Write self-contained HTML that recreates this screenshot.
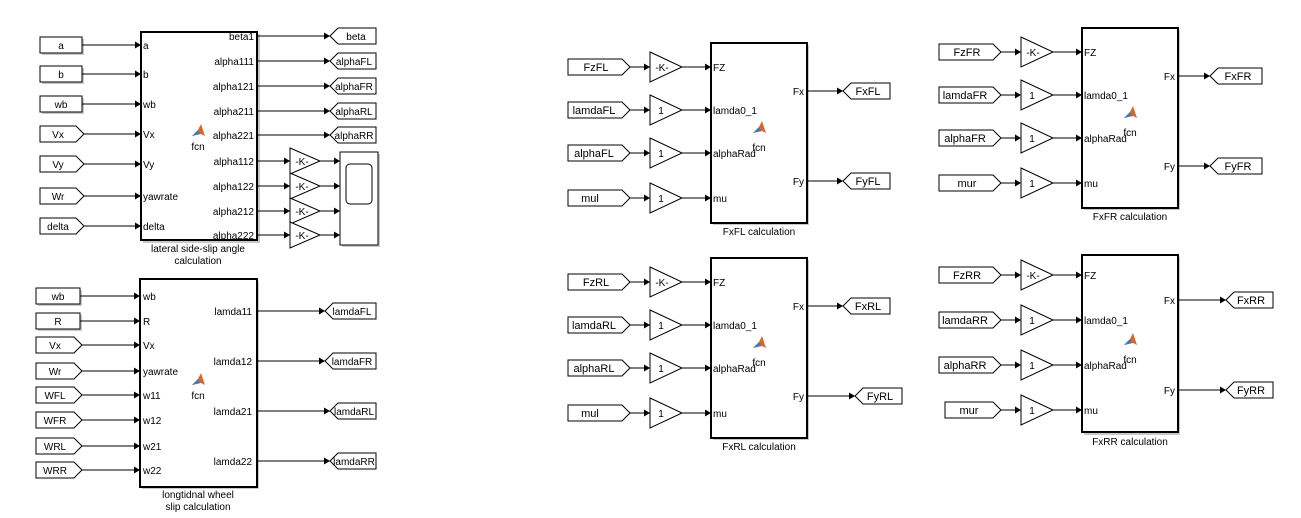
<!DOCTYPE html>
<html><head><meta charset="utf-8"><style>
html,body{margin:0;padding:0;background:#fff;}
svg{display:block;font-family:"Liberation Sans",Arial,sans-serif;}
.b{fill:#fff;stroke:#000;stroke-width:1;}
.fb{fill:#fff;stroke:#000;stroke-width:2;}
.sh{fill:#c8c8c8;stroke:none;}
.l{stroke:#000;stroke-width:1;fill:none;marker-end:url(#ar);}
text{font-size:10px;fill:#000;}
.t{font-size:11px;}
</style></head><body>
<svg width="1301" height="518" viewBox="0 0 1301 518" xmlns="http://www.w3.org/2000/svg">
<defs>
<marker id="ar" markerWidth="7" markerHeight="7" refX="6" refY="3.5" orient="auto" markerUnits="userSpaceOnUse"><path d="M0,0 L6,3.5 L0,7 Z" fill="#000"/></marker>
<g id="fcn"><path d="M0,8 L6,2 L9,-4 L13,8 L9,6 Z" fill="#d9662a"/><path d="M0,8 L6,2 L8,6 Z" fill="#3a7bbf"/></g>
</defs>

<!-- ===== lateral block ===== -->
<rect class="sh" x="143" y="34" width="117" height="209"/>
<rect class="fb" x="141" y="32" width="116" height="208"/>
<g text-anchor="start">
<text x="143" y="49">a</text><text x="143" y="78">b</text><text x="143" y="108">wb</text><text x="143" y="138">Vx</text><text x="143" y="168">Vy</text><text x="143" y="200">yawrate</text><text x="143" y="230">delta</text>
</g>
<g text-anchor="end">
<text x="254" y="40">beta1</text><text x="254" y="65">alpha111</text><text x="254" y="90">alpha121</text><text x="254" y="115">alpha211</text><text x="254" y="139">alpha221</text><text x="254" y="165">alpha112</text><text x="254" y="190">alpha122</text><text x="254" y="215">alpha212</text><text x="254" y="239">alpha222</text>
</g>
<use href="#fcn" x="192" y="128"/><text x="198" y="150" text-anchor="middle">fcn</text>
<text x="198" y="252" text-anchor="middle">lateral  side-slip angle</text>
<text x="198" y="264" text-anchor="middle">calculation</text>
<!-- inputs -->
<g class="t" text-anchor="middle">
<rect class="sh" x="42" y="39" width="42" height="16"/><rect class="b" x="40" y="37" width="42" height="16"/><text x="61" y="49">a</text>
<rect class="sh" x="42" y="68" width="42" height="16"/><rect class="b" x="40" y="66" width="42" height="16"/><text x="61" y="78">b</text>
<rect class="sh" x="42" y="98" width="42" height="16"/><rect class="b" x="40" y="96" width="42" height="16"/><text x="61" y="108">wb</text>
<polygon class="b" points="40,126 76,126 84,134 76,142 40,142"/><text x="58" y="138">Vx</text>
<polygon class="b" points="40,156 76,156 84,164 76,172 40,172"/><text x="58" y="168">Vy</text>
<polygon class="b" points="40,188 76,188 84,196 76,204 40,204"/><text x="58" y="200">Wr</text>
<polygon class="b" points="40,218 76,218 84,226 76,234 40,234"/><text x="58" y="230">delta</text>
</g>
<line class="l" x1="82" y1="45" x2="141" y2="45"/><line class="l" x1="82" y1="74" x2="141" y2="74"/><line class="l" x1="82" y1="104" x2="141" y2="104"/><line class="l" x1="84" y1="134" x2="141" y2="134"/><line class="l" x1="84" y1="164" x2="141" y2="164"/><line class="l" x1="84" y1="196" x2="141" y2="196"/><line class="l" x1="84" y1="226" x2="141" y2="226"/>
<!-- outputs -->
<g class="t" text-anchor="middle">
<polygon class="b" points="330,36 338,28 376,28 376,44 338,44"/><text x="356" y="40">beta</text>
<polygon class="b" points="330,61 338,53 376,53 376,69 338,69"/><text x="354" y="65">alphaFL</text>
<polygon class="b" points="330,86 338,78 376,78 376,94 338,94"/><text x="354" y="90">alphaFR</text>
<polygon class="b" points="330,111 338,103 376,103 376,119 338,119"/><text x="354" y="115">alphaRL</text>
<polygon class="b" points="330,135 338,127 376,127 376,143 338,143"/><text x="354" y="139">alphaRR</text>
</g>
<line class="l" x1="257" y1="36" x2="330" y2="36"/><line class="l" x1="257" y1="61" x2="330" y2="61"/><line class="l" x1="257" y1="86" x2="330" y2="86"/><line class="l" x1="257" y1="111" x2="330" y2="111"/><line class="l" x1="257" y1="135" x2="330" y2="135"/>
<!-- gains + scope -->
<line class="l" x1="257" y1="161" x2="290" y2="161"/><line class="l" x1="257" y1="186" x2="290" y2="186"/><line class="l" x1="257" y1="211" x2="290" y2="211"/><line class="l" x1="257" y1="235" x2="290" y2="235"/>
<polygon class="b" points="290,148 320,161 290,174"/><text x="302" y="165" text-anchor="middle">-K-</text>
<polygon class="b" points="290,173 320,186 290,199"/><text x="302" y="190" text-anchor="middle">-K-</text>
<polygon class="b" points="290,198 320,211 290,224"/><text x="302" y="215" text-anchor="middle">-K-</text>
<polygon class="b" points="290,222 320,235 290,248"/><text x="302" y="239" text-anchor="middle">-K-</text>
<line class="l" x1="320" y1="161" x2="340" y2="161"/><line class="l" x1="320" y1="186" x2="340" y2="186"/><line class="l" x1="320" y1="211" x2="340" y2="211"/><line class="l" x1="320" y1="235" x2="340" y2="235"/>
<rect class="sh" x="342" y="154" width="38" height="93"/><rect class="b" x="340" y="152" width="38" height="93"/>
<rect x="346" y="164" width="26" height="40" rx="4" fill="none" stroke="#000"/>

<!-- ===== longitudinal block ===== -->
<rect class="sh" x="142" y="281" width="117" height="208"/>
<rect class="fb" x="140" y="279" width="117" height="208"/>
<g text-anchor="start">
<text x="143" y="300">wb</text><text x="143" y="325">R</text><text x="143" y="349">Vx</text><text x="143" y="375">yawrate</text><text x="143" y="399">w11</text><text x="143" y="424">w12</text><text x="143" y="450">w21</text><text x="143" y="474">w22</text>
</g>
<g text-anchor="end"><text x="252" y="315">lamda11</text><text x="252" y="365">lamda12</text><text x="252" y="415">lamda21</text><text x="252" y="465">lamda22</text></g>
<use href="#fcn" x="192" y="377"/><text x="198" y="399" text-anchor="middle">fcn</text>
<text x="198" y="498" text-anchor="middle">longtidnal wheel</text>
<text x="198" y="510" text-anchor="middle">slip calculation</text>
<g class="t" text-anchor="middle">
<rect class="sh" x="38" y="290" width="44" height="16"/><rect class="b" x="36" y="288" width="44" height="16"/><text x="58" y="300">wb</text>
<rect class="sh" x="38" y="315" width="44" height="16"/><rect class="b" x="36" y="313" width="44" height="16"/><text x="58" y="325">R</text>
<polygon class="b" points="36,337 74,337 82,345 74,353 36,353"/><text x="55" y="349">Vx</text>
<polygon class="b" points="36,363 74,363 82,371 74,379 36,379"/><text x="55" y="375">Wr</text>
<polygon class="b" points="36,387 74,387 82,395 74,403 36,403"/><text x="55" y="399">WFL</text>
<polygon class="b" points="36,412 74,412 82,420 74,428 36,428"/><text x="55" y="424">WFR</text>
<polygon class="b" points="36,438 74,438 82,446 74,454 36,454"/><text x="55" y="450">WRL</text>
<polygon class="b" points="36,462 74,462 82,470 74,478 36,478"/><text x="55" y="474">WRR</text>
</g>
<line class="l" x1="80" y1="296" x2="140" y2="296"/><line class="l" x1="80" y1="321" x2="140" y2="321"/><line class="l" x1="82" y1="345" x2="140" y2="345"/><line class="l" x1="82" y1="371" x2="140" y2="371"/><line class="l" x1="82" y1="395" x2="140" y2="395"/><line class="l" x1="82" y1="420" x2="140" y2="420"/><line class="l" x1="82" y1="446" x2="140" y2="446"/><line class="l" x1="82" y1="470" x2="140" y2="470"/>
<g class="t" text-anchor="middle">
<polygon class="b" points="325,311 333,303 376,303 376,319 333,319"/><text x="352" y="315">lamdaFL</text>
<polygon class="b" points="325,361 333,353 376,353 376,369 333,369"/><text x="352" y="365">lamdaFR</text>
<polygon class="b" points="330,411 338,403 376,403 376,419 338,419"/><text x="354" y="415">lamdaRL</text>
<polygon class="b" points="330,461 338,453 376,453 376,469 338,469"/><text x="354" y="465">lamdaRR</text>
</g>
<line class="l" x1="257" y1="311" x2="325" y2="311"/><line class="l" x1="257" y1="361" x2="325" y2="361"/><line class="l" x1="257" y1="411" x2="330" y2="411"/><line class="l" x1="257" y1="461" x2="330" y2="461"/>

<!-- ===== Force blocks (template repeated) ===== -->
<!-- FxFL: offset x=0, y=0 -->
<g transform="translate(0,0)">
<rect class="sh" x="713" y="45" width="96" height="180"/><rect class="fb" x="711" y="43" width="96" height="180"/>
<text x="713" y="71">FZ</text><text x="713" y="114">lamda0_1</text><text x="713" y="157">alphaRad</text><text x="713" y="202">mu</text>
<text x="804" y="95" text-anchor="end">Fx</text><text x="804" y="185" text-anchor="end">Fy</text>
<use href="#fcn" x="753" y="125"/><text x="759" y="151" text-anchor="middle">fcn</text>
<text x="759" y="235" text-anchor="middle">FxFL calculation</text>
<polygon class="b" points="568,59 622,59 630,67 622,75 568,75"/><text class="t" x="596" y="71" text-anchor="middle">FzFL</text>
<polygon class="b" points="568,102 622,102 630,110 622,118 568,118"/><text class="t" x="594" y="114" text-anchor="middle">lamdaFL</text>
<polygon class="b" points="568,145 622,145 630,153 622,161 568,161"/><text class="t" x="594" y="157" text-anchor="middle">alphaFL</text>
<polygon class="b" points="568,190 622,190 630,198 622,206 568,206"/><text class="t" x="590" y="202" text-anchor="middle">mul</text>
<line class="l" x1="630" y1="67" x2="650" y2="67"/><line class="l" x1="630" y1="110" x2="650" y2="110"/><line class="l" x1="630" y1="153" x2="650" y2="153"/><line class="l" x1="630" y1="198" x2="650" y2="198"/>
<polygon class="b" points="650,52 682,67 650,82"/><text x="662" y="71" text-anchor="middle">-K-</text>
<polygon class="b" points="650,95 682,110 650,125"/><text x="661" y="114" text-anchor="middle">1</text>
<polygon class="b" points="650,138 682,153 650,168"/><text x="661" y="157" text-anchor="middle">1</text>
<polygon class="b" points="650,183 682,198 650,213"/><text x="661" y="202" text-anchor="middle">1</text>
<line class="l" x1="682" y1="67" x2="711" y2="67"/><line class="l" x1="682" y1="110" x2="711" y2="110"/><line class="l" x1="682" y1="153" x2="711" y2="153"/><line class="l" x1="682" y1="198" x2="711" y2="198"/>
<line class="l" x1="807" y1="91" x2="843" y2="91"/><line class="l" x1="807" y1="181" x2="843" y2="181"/>
<polygon class="b" points="843,91 851,83 890,83 890,99 851,99"/><text class="t" x="868" y="95" text-anchor="middle">FxFL</text>
<polygon class="b" points="843,181 851,173 890,173 890,189 851,189"/><text class="t" x="868" y="185" text-anchor="middle">FyFL</text>
</g>
<!-- FxRL -->
<g transform="translate(0,215)">
<rect class="sh" x="713" y="45" width="96" height="180"/><rect class="fb" x="711" y="43" width="96" height="180"/>
<text x="713" y="71">FZ</text><text x="713" y="114">lamda0_1</text><text x="713" y="157">alphaRad</text><text x="713" y="202">mu</text>
<text x="804" y="95" text-anchor="end">Fx</text><text x="804" y="185" text-anchor="end">Fy</text>
<use href="#fcn" x="753" y="125"/><text x="759" y="151" text-anchor="middle">fcn</text>
<text x="759" y="235" text-anchor="middle">FxRL calculation</text>
<polygon class="b" points="568,59 622,59 630,67 622,75 568,75"/><text class="t" x="596" y="71" text-anchor="middle">FzRL</text>
<polygon class="b" points="568,102 622,102 630,110 622,118 568,118"/><text class="t" x="594" y="114" text-anchor="middle">lamdaRL</text>
<polygon class="b" points="568,145 622,145 630,153 622,161 568,161"/><text class="t" x="594" y="157" text-anchor="middle">alphaRL</text>
<polygon class="b" points="568,190 622,190 630,198 622,206 568,206"/><text class="t" x="590" y="202" text-anchor="middle">mul</text>
<line class="l" x1="630" y1="67" x2="650" y2="67"/><line class="l" x1="630" y1="110" x2="650" y2="110"/><line class="l" x1="630" y1="153" x2="650" y2="153"/><line class="l" x1="630" y1="198" x2="650" y2="198"/>
<polygon class="b" points="650,52 682,67 650,82"/><text x="662" y="71" text-anchor="middle">-K-</text>
<polygon class="b" points="650,95 682,110 650,125"/><text x="661" y="114" text-anchor="middle">1</text>
<polygon class="b" points="650,138 682,153 650,168"/><text x="661" y="157" text-anchor="middle">1</text>
<polygon class="b" points="650,183 682,198 650,213"/><text x="661" y="202" text-anchor="middle">1</text>
<line class="l" x1="682" y1="67" x2="711" y2="67"/><line class="l" x1="682" y1="110" x2="711" y2="110"/><line class="l" x1="682" y1="153" x2="711" y2="153"/><line class="l" x1="682" y1="198" x2="711" y2="198"/>
<line class="l" x1="807" y1="91" x2="843" y2="91"/><line class="l" x1="807" y1="181" x2="855" y2="181"/>
<polygon class="b" points="843,91 851,83 890,83 890,99 851,99"/><text class="t" x="868" y="95" text-anchor="middle">FxRL</text>
<polygon class="b" points="855,181 863,173 902,173 902,189 863,189"/><text class="t" x="880" y="185" text-anchor="middle">FyRL</text>
</g>
<!-- FxFR -->
<g transform="translate(371,-15)">
<rect class="sh" x="713" y="45" width="96" height="180"/><rect class="fb" x="711" y="43" width="96" height="180"/>
<text x="713" y="71">FZ</text><text x="713" y="114">lamda0_1</text><text x="713" y="157">alphaRad</text><text x="713" y="202">mu</text>
<text x="804" y="95" text-anchor="end">Fx</text><text x="804" y="185" text-anchor="end">Fy</text>
<use href="#fcn" x="753" y="125"/><text x="759" y="151" text-anchor="middle">fcn</text>
<text x="759" y="235" text-anchor="middle">FxFR calculation</text>
<polygon class="b" points="568,59 622,59 630,67 622,75 568,75"/><text class="t" x="596" y="71" text-anchor="middle">FzFR</text>
<polygon class="b" points="568,102 622,102 630,110 622,118 568,118"/><text class="t" x="594" y="114" text-anchor="middle">lamdaFR</text>
<polygon class="b" points="568,145 622,145 630,153 622,161 568,161"/><text class="t" x="594" y="157" text-anchor="middle">alphaFR</text>
<polygon class="b" points="568,190 622,190 630,198 622,206 568,206"/><text class="t" x="596" y="202" text-anchor="middle">mur</text>
<line class="l" x1="630" y1="67" x2="650" y2="67"/><line class="l" x1="630" y1="110" x2="650" y2="110"/><line class="l" x1="630" y1="153" x2="650" y2="153"/><line class="l" x1="630" y1="198" x2="650" y2="198"/>
<polygon class="b" points="650,52 682,67 650,82"/><text x="662" y="71" text-anchor="middle">-K-</text>
<polygon class="b" points="650,95 682,110 650,125"/><text x="661" y="114" text-anchor="middle">1</text>
<polygon class="b" points="650,138 682,153 650,168"/><text x="661" y="157" text-anchor="middle">1</text>
<polygon class="b" points="650,183 682,198 650,213"/><text x="661" y="202" text-anchor="middle">1</text>
<line class="l" x1="682" y1="67" x2="711" y2="67"/><line class="l" x1="682" y1="110" x2="711" y2="110"/><line class="l" x1="682" y1="153" x2="711" y2="153"/><line class="l" x1="682" y1="198" x2="711" y2="198"/>
<line class="l" x1="807" y1="91" x2="839" y2="91"/><line class="l" x1="807" y1="181" x2="839" y2="181"/>
<polygon class="b" points="839,91 847,83 891,83 891,99 847,99"/><text class="t" x="867" y="95" text-anchor="middle">FxFR</text>
<polygon class="b" points="839,181 847,173 891,173 891,189 847,189"/><text class="t" x="867" y="185" text-anchor="middle">FyFR</text>
</g>
<!-- FxRR -->
<g transform="translate(371,212)">
<rect class="sh" x="713" y="45" width="96" height="178"/><rect class="fb" x="711" y="43" width="96" height="177"/>
<text x="713" y="67">FZ</text><text x="713" y="112">lamda0_1</text><text x="713" y="157">alphaRad</text><text x="713" y="202">mu</text>
<text x="804" y="92" text-anchor="end">Fx</text><text x="804" y="182" text-anchor="end">Fy</text>
<use href="#fcn" x="753" y="125"/><text x="759" y="151" text-anchor="middle">fcn</text>
<text x="759" y="233" text-anchor="middle">FxRR calculation</text>
<polygon class="b" points="568,55 622,55 630,63 622,71 568,71"/><text class="t" x="596" y="67" text-anchor="middle">FzRR</text>
<polygon class="b" points="568,100 622,100 630,108 622,116 568,116"/><text class="t" x="594" y="112" text-anchor="middle">lamdaRR</text>
<polygon class="b" points="568,145 622,145 630,153 622,161 568,161"/><text class="t" x="594" y="157" text-anchor="middle">alphaRR</text>
<polygon class="b" points="574,190 622,190 630,198 622,206 574,206"/><text class="t" x="598" y="202" text-anchor="middle">mur</text>
<line class="l" x1="630" y1="63" x2="650" y2="63"/><line class="l" x1="630" y1="108" x2="650" y2="108"/><line class="l" x1="630" y1="153" x2="650" y2="153"/><line class="l" x1="630" y1="198" x2="650" y2="198"/>
<polygon class="b" points="650,48 682,63 650,78"/><text x="662" y="67" text-anchor="middle">-K-</text>
<polygon class="b" points="650,93 682,108 650,123"/><text x="661" y="112" text-anchor="middle">1</text>
<polygon class="b" points="650,138 682,153 650,168"/><text x="661" y="157" text-anchor="middle">1</text>
<polygon class="b" points="650,183 682,198 650,213"/><text x="661" y="202" text-anchor="middle">1</text>
<line class="l" x1="682" y1="63" x2="711" y2="63"/><line class="l" x1="682" y1="108" x2="711" y2="108"/><line class="l" x1="682" y1="153" x2="711" y2="153"/><line class="l" x1="682" y1="198" x2="711" y2="198"/>
<line class="l" x1="807" y1="88" x2="855" y2="88"/><line class="l" x1="807" y1="178" x2="855" y2="178"/>
<polygon class="b" points="855,88 863,80 902,80 902,96 863,96"/><text class="t" x="880" y="92" text-anchor="middle">FxRR</text>
<polygon class="b" points="855,178 863,170 902,170 902,186 863,186"/><text class="t" x="880" y="182" text-anchor="middle">FyRR</text>
</g>
</svg>
</body></html>
